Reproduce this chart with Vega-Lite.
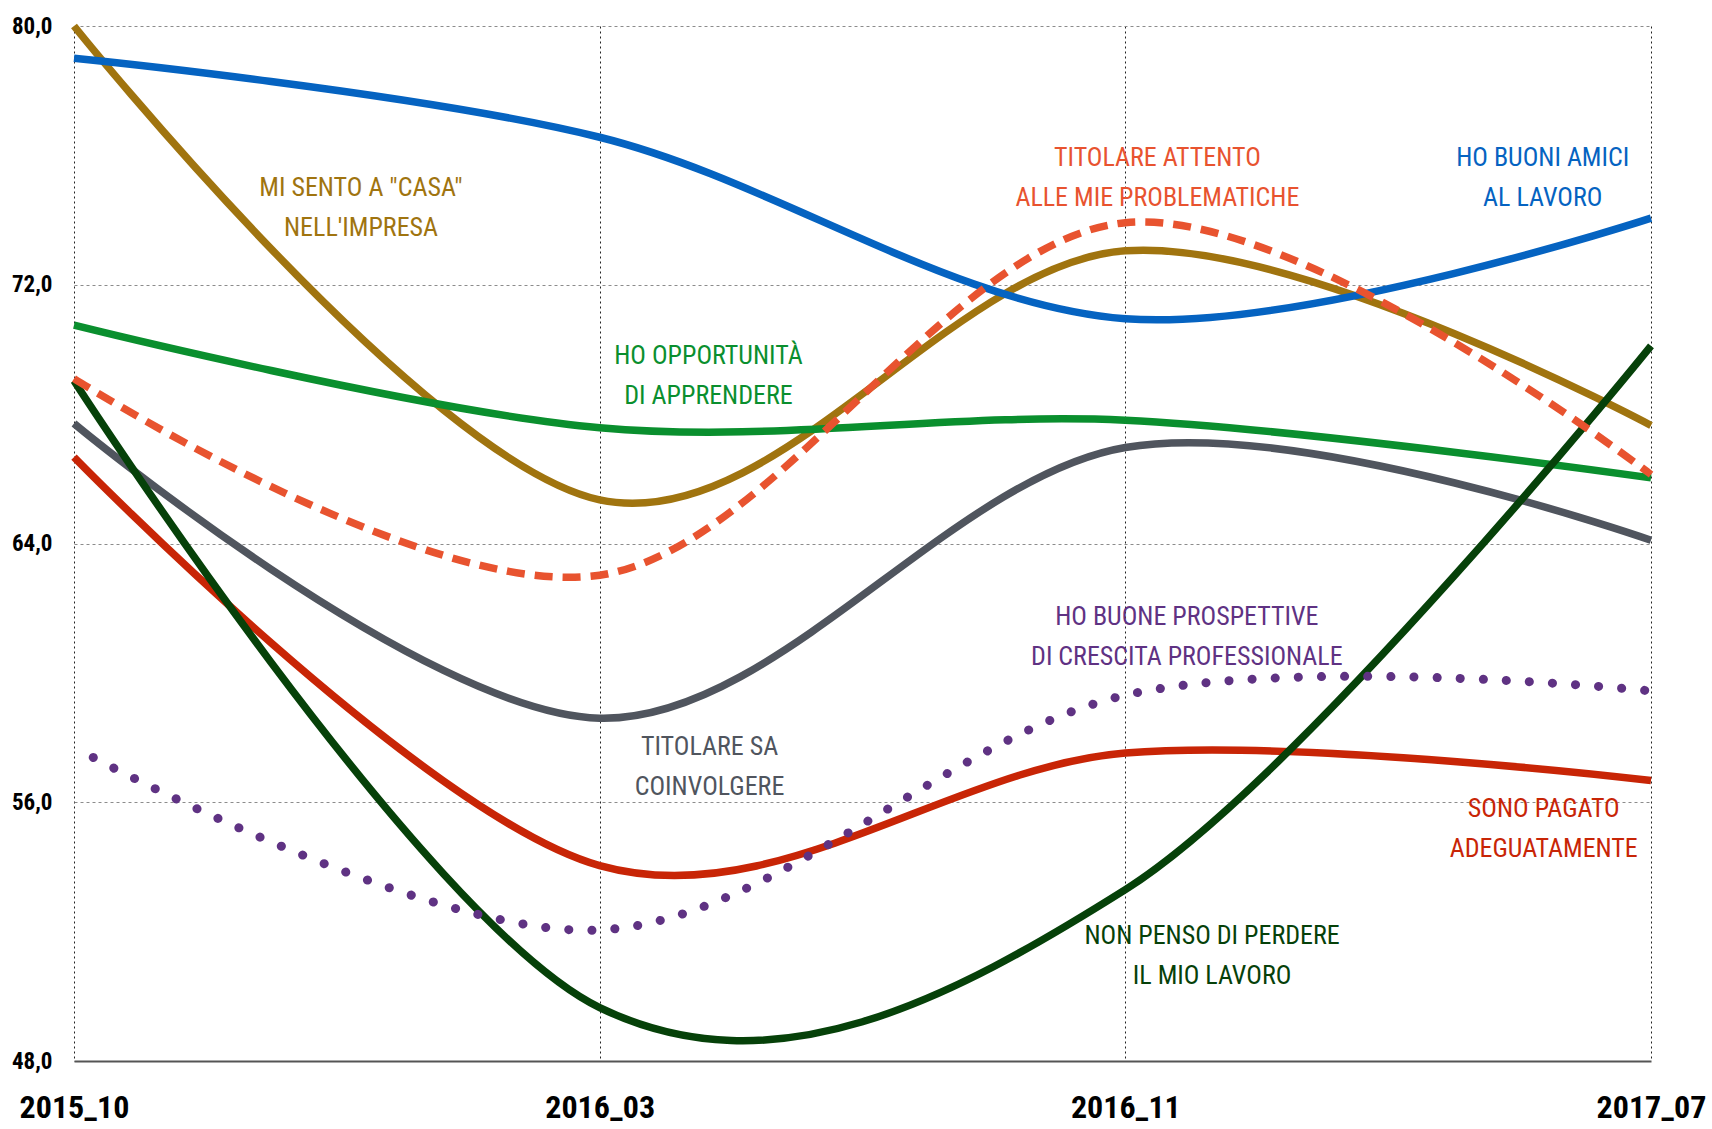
{
  "$schema": "https://vega.github.io/schema/vega-lite/v6.json",
  "width": 1577,
  "height": 1035,
  "autosize": {"type": "none"},
  "padding": {"left": 74, "top": 26, "right": 61, "bottom": 68},
  "background": "white",
  "config": {"view": {"stroke": null}, "font": "Roboto Condensed, Open Sans Condensed, Noto Sans Condensed, Liberation Sans Narrow, DejaVu Sans Condensed, Roboto, sans-serif"},
  "datasets": {
    "series": [
      {"s": "Casa", "x": 0, "v": 80.0}, {"s": "Casa", "x": 1, "v": 65.35}, {"s": "Casa", "x": 2, "v": 73.05}, {"s": "Casa", "x": 3, "v": 67.65},
      {"s": "Amici", "x": 0, "v": 79.0}, {"s": "Amici", "x": 1, "v": 76.56}, {"s": "Amici", "x": 2, "v": 70.95}, {"s": "Amici", "x": 3, "v": 74.06},
      {"s": "Opportunita", "x": 0, "v": 70.75}, {"s": "Opportunita", "x": 1, "v": 67.58}, {"s": "Opportunita", "x": 2, "v": 67.81}, {"s": "Opportunita", "x": 3, "v": 66.03},
      {"s": "Coinvolgere", "x": 0, "v": 67.71}, {"s": "Coinvolgere", "x": 1, "v": 58.6}, {"s": "Coinvolgere", "x": 2, "v": 66.97}, {"s": "Coinvolgere", "x": 3, "v": 64.1},
      {"s": "Pagato", "x": 0, "v": 66.67}, {"s": "Pagato", "x": 1, "v": 54.04}, {"s": "Pagato", "x": 2, "v": 57.52}, {"s": "Pagato", "x": 3, "v": 56.67},
      {"s": "Perdere", "x": 0, "v": 69.03}, {"s": "Perdere", "x": 1, "v": 49.65}, {"s": "Perdere", "x": 2, "v": 53.3}, {"s": "Perdere", "x": 3, "v": 70.11},
      {"s": "Attento", "x": 0, "v": 69.1}, {"s": "Attento", "x": 1, "v": 63.02}, {"s": "Attento", "x": 2, "v": 73.92}, {"s": "Attento", "x": 3, "v": 66.13},
      {"s": "Prospettive", "x": 0, "v": 57.7}, {"s": "Prospettive", "x": 1, "v": 52.05}, {"s": "Prospettive", "x": 2, "v": 59.31}, {"s": "Prospettive", "x": 3, "v": 59.44}
    ],
    "labels": [
      {"s": "Casa", "x": 0.546, "v": 75.0, "t": "MI SENTO A \"CASA\"\nNELL'IMPRESA"},
      {"s": "Attento", "x": 2.061, "v": 75.92, "t": "TITOLARE ATTENTO\nALLE MIE PROBLEMATICHE"},
      {"s": "Amici", "x": 2.794, "v": 75.92, "t": "HO BUONI AMICI\nAL LAVORO"},
      {"s": "Opportunita", "x": 1.207, "v": 69.81, "t": "HO OPPORTUNITÀ\nDI APPRENDERE"},
      {"s": "Coinvolgere", "x": 1.209, "v": 57.72, "t": "TITOLARE SA\nCOINVOLGERE"},
      {"s": "Prospettive", "x": 2.117, "v": 61.74, "t": "HO BUONE PROSPETTIVE\nDI CRESCITA PROFESSIONALE"},
      {"s": "Pagato", "x": 2.796, "v": 55.8, "t": "SONO PAGATO\nADEGUATAMENTE"},
      {"s": "Perdere", "x": 2.165, "v": 51.88, "t": "NON PENSO DI PERDERE\nIL MIO LAVORO"}
    ]
  },
  "encoding": {
    "x": {
      "field": "x", "type": "quantitative",
      "scale": {"domain": [0, 3], "nice": false, "zero": false},
      "axis": {
        "values": [0, 1, 2, 3],
        "labelExpr": "['2015_10','2016_03','2016_11','2017_07'][datum.value]",
        "title": null, "grid": true, "gridDash": [2, 3], "gridColor": "#222222", "gridWidth": 1,
        "domain": true, "domainColor": "#555555", "domainWidth": 2, "ticks": false,
        "labelFontSize": 32, "labelFontWeight": "bold", "labelPadding": 31, "labelColor": "#000000",
        "labelFlush": false, "labelOverlap": false, "labelBound": false
      }
    },
    "y": {
      "field": "v", "type": "quantitative",
      "scale": {"domain": [48, 80], "nice": false, "zero": false},
      "axis": {
        "values": [48, 56, 64, 72, 80],
        "labelExpr": "replace(format(datum.value,'.1f'),'.',',')",
        "title": null, "grid": true, "gridDash": [3, 3], "gridColor": "#8c8c8c", "gridWidth": 1,
        "domain": false, "ticks": false,
        "labelFontSize": 23, "labelFontWeight": "bold", "labelPadding": 22, "labelColor": "#000000",
        "labelOverlap": false, "labelBound": false
      }
    },
    "color": {
      "field": "s", "type": "nominal", "legend": null,
      "scale": {
        "domain": ["Casa", "Amici", "Opportunita", "Coinvolgere", "Pagato", "Perdere", "Attento", "Prospettive"],
        "range": ["#A0740F", "#0563C1", "#0A8F2E", "#50555E", "#C82506", "#064109", "#E8532F", "#5F3283"]
      }
    }
  },
  "layer": [
    {
      "data": {"name": "series"},
      "transform": [{"filter": "datum.s != 'Attento' && datum.s != 'Prospettive'"}],
      "mark": {"type": "line", "interpolate": "cardinal", "strokeWidth": 7.5, "strokeCap": "butt"},
      "encoding": {"detail": {"field": "s"}}
    },
    {
      "data": {"name": "series"},
      "transform": [{"filter": "datum.s == 'Attento'"}],
      "mark": {"type": "line", "interpolate": "cardinal", "strokeWidth": 7.5, "strokeDash": [18, 10], "strokeCap": "butt"}
    },
    {
      "data": {"name": "series"},
      "transform": [{"filter": "datum.s == 'Prospettive'"}],
      "mark": {"type": "line", "interpolate": "cardinal", "strokeWidth": 9, "strokeDash": [0.1, 23], "strokeDashOffset": -22, "strokeCap": "round"}
    },
    {
      "data": {"name": "labels"},
      "mark": {"type": "text", "lineBreak": "\n", "fontSize": 26, "lineHeight": 40, "align": "center", "baseline": "middle"},
      "encoding": {"text": {"field": "t"}}
    }
  ]
}
